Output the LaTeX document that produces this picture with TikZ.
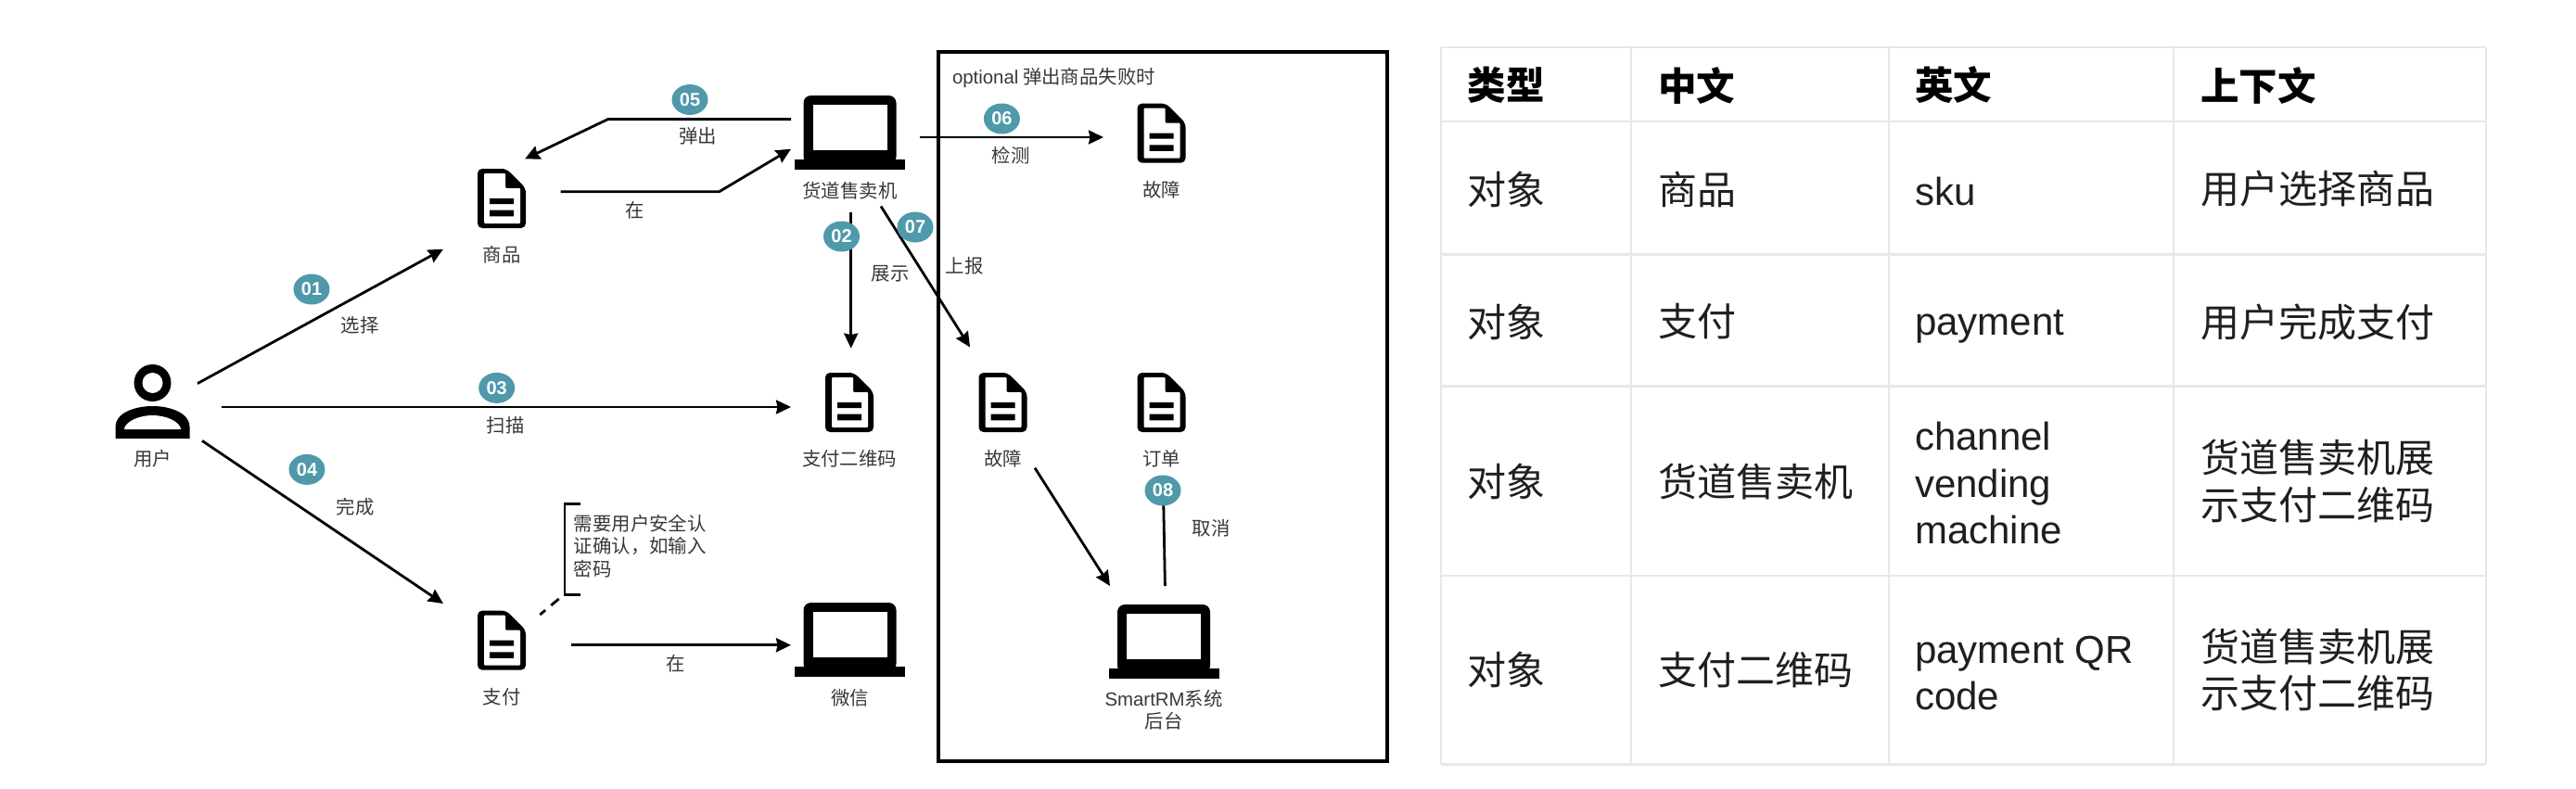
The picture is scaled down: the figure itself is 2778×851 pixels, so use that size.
\documentclass[tikz,border=0pt]{standalone}
\usepackage{fontspec}
\usepackage{xcolor}
\setmainfont{Noto Sans CJK SC}
\newfontfamily\latfont{Liberation Sans}
\usetikzlibrary{arrows.meta,calc,positioning,shapes.geometric}
\definecolor{badgecol}{HTML}{4F99AB}
\definecolor{gridcol}{HTML}{E8E8E8}
\tikzset{
  conn/.style={line width=2.8pt},
  lbl/.style={font=\fontsize{20.4}{24.4}\selectfont,text=black!78,inner sep=0pt,text height=16pt,text depth=4pt},
  badge/.style={ellipse,fill=badgecol,text=white,inner sep=0pt,minimum width=39pt,minimum height=33pt,
    font=\latfont\bfseries\fontsize{20}{20}\selectfont},
  cell/.style={anchor=west,inner sep=0pt,text=black!88,align=left,font=\fontsize{42}{50.5}\selectfont},
  head/.style={cell,text=black,font=\bfseries\fontsize{41.5}{50.5}\selectfont},
  engl/.style={cell,font=\latfont\fontsize{42}{50.5}\selectfont},
  tline/.style={draw=gridcol,line width=2.2pt},
  docicon/.style={minimum width=54pt,minimum height=66pt,inner sep=0pt,path picture={
    \begin{scope}[shift={(path picture bounding box.center)}]
      \fill[black,rounded corners=5pt] (-26,-32) -- (5,-32) -- (26,-11) -- (26,32) -- (-26,32) -- cycle;
      \fill[white,rounded corners=1pt] (-19,-27) -- (4,-27) -- (4,-11) -- (20,-11) -- (20,27) -- (-19,27) -- cycle;
      \fill[black] (-13,0) rectangle (13,6) (-13,12.7) rectangle (13,19.3);
    \end{scope}}},
  laptop/.style={minimum width=120pt,minimum height=82pt,inner sep=0pt,path picture={
    \begin{scope}[shift={(path picture bounding box.center)}]
      \fill[black,rounded corners=8pt] (-50,-40) rectangle (50,34);
      \fill[white] (-40,-30) rectangle (40,19.3);
      \fill[black] (-59.5,29.3) rectangle (59.5,39.7);
    \end{scope}}},
  person/.style={minimum width=82pt,minimum height=82pt,inner sep=0pt,path picture={
    \begin{scope}[shift={(path picture bounding box.center)}]
      \fill[black] (0,-20) circle (20pt);
      \fill[white] (0,-20) circle (11pt);
      \fill[black] (-40,40) -- (-40,27) .. controls (-40,13) and (-20,5) .. (0,5)
        .. controls (20,5) and (40,13) .. (40,27) -- (40,40) -- cycle;
      \fill[white] (-30.5,30) -- (-30.5,29) .. controls (-28,21) and (-14,15) .. (0,15)
        .. controls (14,15) and (28,21) .. (30.5,29) -- (30.5,30) -- cycle;
    \end{scope}}}
}
\begin{document}
\begin{tikzpicture}[x=1pt,y=-1pt,>={Stealth[length=16pt,width=15pt,inset=1.5pt]},node distance=13pt]
  \useasboundingbox (0,0) rectangle (2778,851);

  \node[person]  (usr)    at (164.5,433)  {};
  \node[docicon] (sku)    at (541,214)    {};
  \node[docicon] (pay)    at (541,690.6)  {};
  \node[docicon] (qr)     at (916,434)    {};
  \node[laptop]  (vend)   at (916.5,143)  {};
  \node[laptop]  (wx)     at (916.5,690)  {};
  \node[docicon] (fault)  at (1252.5,143.6) {};
  \node[docicon] (report) at (1081.5,434) {};
  \node[docicon] (order)  at (1252.5,434) {};
  \node[laptop]  (crm)    at (1255,692)   {};

  \node[lbl,below=12pt of usr]    (usrt)    {用户};
  \node[lbl,below=19.5pt of sku]  (skut)    {商品};
  \node[lbl,below=19.5pt of pay]  (payt)    {支付};
  \node[lbl,below=19.5pt of qr]   (qrt)     {支付二维码};
  \node[lbl,below=of vend]        (vendt)   {货道售卖机};
  \node[lbl,below=of wx]          (wxt)     {微信};
  \node[lbl,below=19.5pt of fault]  (faultt)  {故障};
  \node[lbl,below=19.5pt of report] (reportt) {故障};
  \node[lbl,below=19.5pt of order]  (ordert)  {订单};
  \node[lbl,align=center,text height=,text depth=] (crmt) at (1255,766) {{\latfont SmartRM}系统\\后台};

  \path[->,conn] ($(usr)+(48.5,-19.4)$) edge ($(sku)+(-63,54.7)$)
        ($(usr)+(74,6)$) edge ($(qr)+(-63,5)$)
        ($(usr)+(53.5,42.4)$) edge ($(pay)+(-63,-39.6)$)
        ($(vend)+(1.2,86)$) edge ($(qr)+(1.7,-58.4)$)
        ($(vend)+(75.2,5)$) edge ($(fault)+(-62.5,4.4)$)
        ($(vend)+(33.5,79.5)$) edge ($(report)+(-35.5,-59.5)$)
        ($(report)+(34.5,70.7)$) edge ($(crm)+(-58,-60)$)
        ($(pay)+(75,5.2)$) edge ($(wx)+(-63.5,5.8)$);
  \draw[->,conn] ($(vend)+(-63.5,-14.4)$) -- ++(-197.4,0) -- ($(sku)+(25,-42.5)$);
  \draw[->,conn] ($(sku)+(63.6,-7.2)$) -- ++(170.9,0) -- ($(vend)+(-63.5,17.7)$);
  \draw[conn] ($(order)+(2,95)$) -- ($(crm)+(1.4,-60)$);

  \node[lbl,anchor=west,align=left,text height=,text depth=] (note) at (618.6,589)
    {需要用户安全认\\证确认，如输入\\密码};
  \draw[conn] ($(note.west)+(7.7,-45.7)$) -- ++(-17.3,0) -- ++(0,98.2) -- ++(17.3,0);
  \draw[conn,dash pattern=on 11pt off 8pt] ($(note.west)+(-15.9,56.9)$) -- ($(pay)+(41.3,-27.6)$);

  \node[lbl] (t01) at (388,352)   {选择};
  \node[lbl] (t02) at (960,296)   {展示};
  \node[lbl] (t03) at (545,460)   {扫描};
  \node[lbl] (t04) at (383,548)   {完成};
  \node[lbl] (t05) at (752.6,148) {弹出};
  \node[lbl] (t06) at (1090,169)  {检测};
  \node[lbl] (t07) at (1040,288)  {上报};
  \node[lbl] (t08) at (1306,571)  {取消};
  \node[lbl] (t09) at (685,228)   {在};
  \node[lbl] (t10) at (729,717)   {在};
  \node[lbl,anchor=west] (opt) at (1026.8,84) {{\latfont optional} 弹出商品失败时};

  \node[badge] (b01) at (336,312)    {01};
  \node[badge] (b02) at (907.5,255)  {02};
  \node[badge] (b03) at (535.7,418.4) {03};
  \node[badge] (b04) at (331,506.4)  {04};
  \node[badge] (b05) at (744,107.5)  {05};
  \node[badge] (b06) at (1080.4,128) {06};
  \node[badge] (b07) at (987,245)    {07};
  \node[badge] (b08) at (1254,529)   {08};

  \draw[line width=4pt] (1012,56) rectangle (1496,820.6);

  \foreach \x in {1553.8,1758.8,2036.8,2344,2680.8}
    \draw[tline] (\x,50.7) -- (\x,824.4);
  \foreach \y in {50.7,131.3,274.4,416.4,621,824.4}
    \draw[tline] (1553.8,\y) -- (2680.8,\y);

  \node[head] (h1) at (1582.5,92) {类型};
  \node[head] (h2) at (1787.8,92) {中文};
  \node[head] (h3) at (2065,92)   {英文};
  \node[head] (h4) at (2373,92)   {上下文};

  \node[cell] (a1) at (1582.5,204) {对象};
  \node[cell] (a2) at (1787.8,204) {商品};
  \node[engl] (a3) at (2065,206)   {sku};
  \node[cell] (a4) at (2373,204)   {用户选择商品};

  \node[cell] (b1) at (1582.5,347) {对象};
  \node[cell] (b2) at (1787.8,347) {支付};
  \node[engl] (b3) at (2065,352)   {payment};
  \node[cell] (b4) at (2373,347)   {用户完成支付};

  \node[cell] (c1) at (1582.5,519) {对象};
  \node[cell] (c2) at (1787.8,519) {货道售卖机};
  \node[engl] (c3) at (2065,521)   {channel\\vending\\machine};
  \node[cell] (c4) at (2373,519)   {货道售卖机展\\示支付二维码};

  \node[cell] (d1) at (1582.5,722.6) {对象};
  \node[cell] (d2) at (1787.8,722.6) {支付二维码};
  \node[engl] (d3) at (2065,726)     {payment QR\\code};
  \node[cell] (d4) at (2373,722.6)   {货道售卖机展\\示支付二维码};
\end{tikzpicture}
\end{document}
